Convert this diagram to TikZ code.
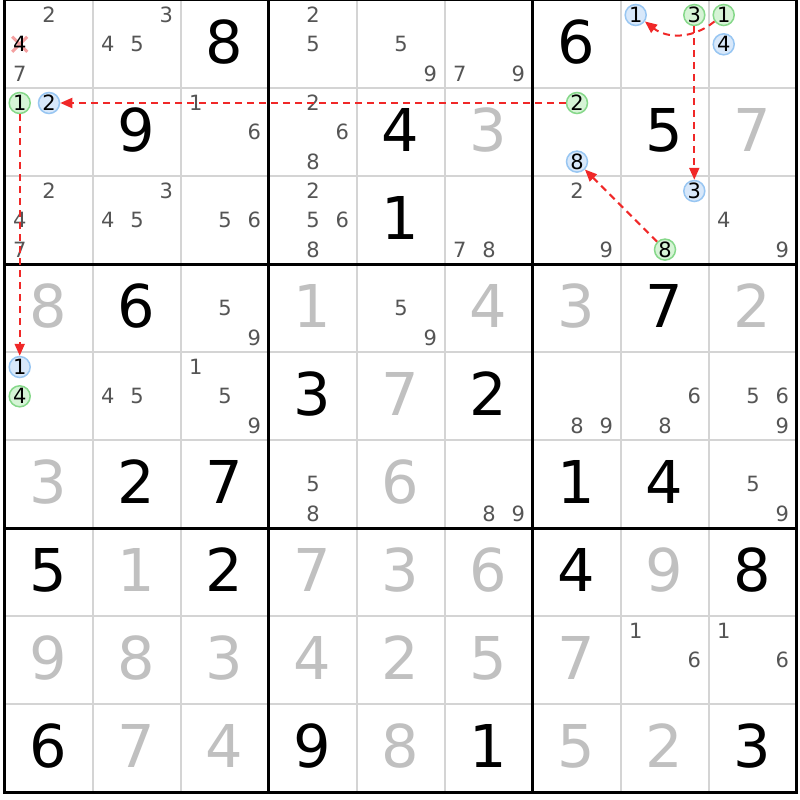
\documentclass[tikz,border=0pt]{standalone}
\usepackage{fontspec}
\setmainfont{DejaVu Sans}
\usetikzlibrary{arrows.meta,calc}
\definecolor{givengray}{HTML}{C0C0C0}
\definecolor{candgray}{HTML}{555555}
\definecolor{thingray}{HTML}{D4D4D4}
\definecolor{bluefill}{HTML}{D8E8FA}
\definecolor{blueborder}{HTML}{98C6F2}
\definecolor{greenfill}{HTML}{D6F4D6}
\definecolor{greenborder}{HTML}{86D88A}
\definecolor{linkred}{HTML}{F02828}
\definecolor{crosspink}{HTML}{F4A0A0}
\tikzset{
  big/.style={font=\fontsize{59}{59}\selectfont, inner sep=0pt},
  solved/.style={big, text=black},
  given/.style={big, text=givengray},
  cand/.style={font=\fontsize{21}{21}\selectfont, text=candgray, inner sep=0pt},
  bluec/.style={cand, text=black, circle, draw=blueborder, fill=bluefill, line width=1.5pt, minimum size=21pt},
  greenc/.style={cand, text=black, circle, draw=greenborder, fill=greenfill, line width=1.5pt, minimum size=21pt},
  elim/.style={cand, text=black},
  link/.style={draw=linkred, line width=2pt, dash pattern=on 7pt off 5pt, -{Triangle[length=12pt,width=10pt,fill=linkred]}},
  thinline/.style={draw=thingray, line width=2pt},
  thickline/.style={draw=black, line width=3pt},
  crossline/.style={draw=crosspink, line width=3pt},
}
\begin{document}
\begin{tikzpicture}[x=1pt,y=-1pt]
\useasboundingbox (0,0) rectangle (800,800);
\fill[white] (0,0) rectangle (800,800);
% thin grid
\foreach \k in {1,2,4,5,7,8} {
  \draw[thinline] ({4.7+88*\k},0) -- ({4.7+88*\k},792);
  \draw[thinline] (4.7,{88*\k}) -- (796.7,{88*\k});
}
% thick grid
\foreach \k in {0,3,6,9} {
  \draw[thickline] ({4.7+88*\k},-1.5) -- ({4.7+88*\k},793.5);
  \draw[thickline] (3.2,{88*\k}) -- (798.2,{88*\k});
}
% solved digits (black)
\foreach \r/\c/\d in {1/3/8,1/7/6,2/2/9,2/5/4,2/8/5,3/5/1,4/2/6,4/8/7,5/4/3,5/6/2,
  6/2/2,6/3/7,6/7/1,6/8/4,7/1/5,7/3/2,7/7/4,7/9/8,9/1/6,9/4/9,9/6/1,9/9/3}
  \node[solved] (g\r\c) at ({4.7+88*(\c-0.5)},{88*(\r-0.5)-2}) {\d};
% given digits (gray)
\foreach \r/\c/\d in {2/6/3,2/9/7,4/1/8,4/4/1,4/6/4,4/7/3,4/9/2,5/5/7,6/1/3,6/5/6,
  7/2/1,7/4/7,7/5/3,7/6/6,7/8/9,8/1/9,8/2/8,8/3/3,8/4/4,8/5/2,8/6/5,8/7/7,
  9/2/7,9/3/4,9/5/8,9/7/5,9/8/2}
  \node[given] (g\r\c) at ({4.7+88*(\c-0.5)},{88*(\r-0.5)-2}) {\d};
% eliminated candidate cross
\coordinate (x114) at ({4.7+15},{15+29.3});
\draw[crossline] ($(x114)+(-7.5,-7.5)$) -- ($(x114)+(7.5,7.5)$);
\draw[crossline] ($(x114)+(-7.5,7.5)$) -- ($(x114)+(7.5,-7.5)$);
% candidates
\foreach \r/\c/\d/\s in {
  1/1/2/cand,1/1/4/elim,1/1/7/cand,1/2/3/cand,1/2/4/cand,1/2/5/cand,1/4/2/cand,1/4/5/cand,
  1/5/5/cand,1/5/9/cand,1/6/7/cand,1/6/9/cand,1/8/1/bluec,1/8/3/greenc,1/9/1/greenc,1/9/4/bluec,
  2/1/1/greenc,2/1/2/bluec,2/3/1/cand,2/3/6/cand,2/4/2/cand,2/4/6/cand,2/4/8/cand,
  2/7/2/greenc,2/7/8/bluec,
  3/1/2/cand,3/1/4/cand,3/1/7/cand,3/2/3/cand,3/2/4/cand,3/2/5/cand,3/3/5/cand,3/3/6/cand,
  3/4/2/cand,3/4/5/cand,3/4/6/cand,3/4/8/cand,3/6/7/cand,3/6/8/cand,3/7/2/cand,3/7/9/cand,
  3/8/3/bluec,3/8/8/greenc,3/9/4/cand,3/9/9/cand,
  4/3/5/cand,4/3/9/cand,4/5/5/cand,4/5/9/cand,
  5/1/1/bluec,5/1/4/greenc,5/2/4/cand,5/2/5/cand,5/3/1/cand,5/3/5/cand,5/3/9/cand,
  5/7/8/cand,5/7/9/cand,5/8/6/cand,5/8/8/cand,5/9/5/cand,5/9/6/cand,5/9/9/cand,
  6/4/5/cand,6/4/8/cand,6/6/8/cand,6/6/9/cand,6/9/5/cand,6/9/9/cand,
  8/8/1/cand,8/8/6/cand,8/9/1/cand,8/9/6/cand}
{
  \pgfmathsetmacro\cx{4.7+88*(\c-1)+15+29.3*mod(\d-1,3)}
  \pgfmathsetmacro\cy{88*(\r-1)+15+29.3*floor((\d-1)/3)}
  \node[\s] (k\r\c\d) at (\cx,\cy) {\d};
}
% links
\draw[link] (k272) -- (k212);
\draw[link] (k211) -- (k511);
\draw[link] (k191.215) .. controls (692,40) and (666,38) .. (k181.-35);
\draw[link] (k183) -- (k383);
\draw[link] (k388) -- (k278);
\end{tikzpicture}
\end{document}
